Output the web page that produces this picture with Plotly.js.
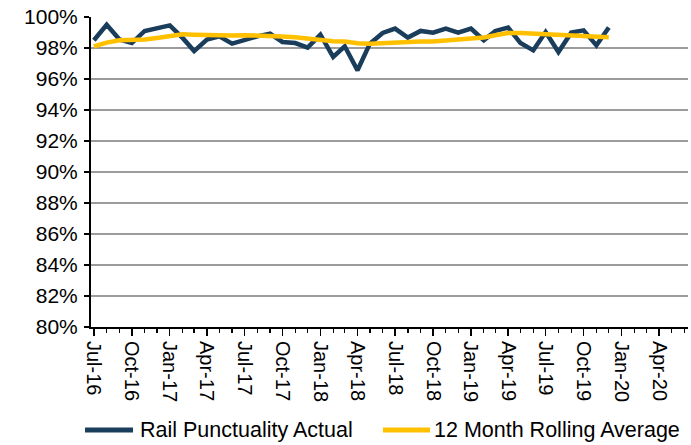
<!DOCTYPE html>
<html>
<head>
<meta charset="utf-8">
<script src="https://cdn.plot.ly/plotly-3.0.1.min.js"></script>
<style>
  html, body { margin: 0; padding: 0; background: #ffffff; }
  #chart { width: 691px; height: 445px; }
</style>
</head>
<body>
<div id="chart"></div>
<script>
const months = [
  '2016-07','2016-08','2016-09','2016-10','2016-11','2016-12',
  '2017-01','2017-02','2017-03','2017-04','2017-05','2017-06',
  '2017-07','2017-08','2017-09','2017-10','2017-11','2017-12',
  '2018-01','2018-02','2018-03','2018-04','2018-05','2018-06',
  '2018-07','2018-08','2018-09','2018-10','2018-11','2018-12',
  '2019-01','2019-02','2019-03','2019-04','2019-05','2019-06',
  '2019-07','2019-08','2019-09','2019-10','2019-11','2019-12'
];

const actual = [
  98.50, 99.50, 98.55, 98.32, 99.10, 99.27,
  99.46, 98.65, 97.80, 98.54, 98.75, 98.28,
  98.54, 98.75, 98.93, 98.39, 98.32, 98.03,
  98.86, 97.42, 98.11, 96.56, 98.28, 98.97,
  99.25, 98.67, 99.10, 98.99, 99.25, 98.99,
  99.25, 98.50, 99.10, 99.32, 98.32, 97.85,
  99.03, 97.74, 98.99, 99.14, 98.17, 99.32
];

const rolling = [
  98.10, 98.35, 98.50, 98.50, 98.55, 98.65,
  98.75, 98.88, 98.85, 98.82, 98.80, 98.80,
  98.82, 98.82, 98.80, 98.75, 98.70, 98.60,
  98.50, 98.44, 98.42, 98.30, 98.28, 98.32,
  98.38, 98.40, 98.42, 98.42, 98.47, 98.52,
  98.60, 98.68, 98.82, 98.97, 98.97, 98.93,
  98.88, 98.80, 98.78, 98.78, 98.75, 98.70
];

const seriesNames = ['Rail Punctuality Actual', '12 Month Rolling Average'];
const seriesColors = ['#1b3d5c', '#ffc000'];
const yTickVals = [80, 82, 84, 86, 88, 90, 92, 94, 96, 98, 100];
const yTickText = ['80%','82%','84%','86%','88%','90%','92%','94%','96%','98%','100%'];

const FONT = 'Liberation Sans, Arial, sans-serif';

const traces = [
  {
    x: months, y: actual, name: seriesNames[0], type: 'scatter', mode: 'lines',
    line: { color: seriesColors[0], width: 4.5 }, hoverinfo: 'none', showlegend: false
  },
  {
    x: months, y: rolling, name: seriesNames[1], type: 'scatter', mode: 'lines',
    line: { color: seriesColors[1], width: 4.5 }, hoverinfo: 'none', showlegend: false
  }
];

// Legend drawn as paper-referenced line swatches plus text labels
const legendY = -0.332;
const legendItems = [
  { x0: -0.010, x1: 0.0704, tx: 0.0787 },
  { x0: 0.489, x1: 0.568, tx: 0.571 }
];
const shapes = legendItems.map((it, i) => ({
  type: 'line', xref: 'paper', yref: 'paper',
  x0: it.x0, x1: it.x1, y0: legendY, y1: legendY,
  line: { color: seriesColors[i], width: 5 }, layer: 'above'
}));
const annotations = legendItems.map((it, i) => ({
  xref: 'paper', yref: 'paper', x: it.tx, y: legendY,
  xanchor: 'left', yanchor: 'middle', showarrow: false,
  text: seriesNames[i],
  font: { family: FONT, size: 21.5, color: '#000000' }
}));

const layout = {
  width: 691, height: 445,
  margin: { l: 91, r: 3, t: 17, b: 118 },
  paper_bgcolor: '#ffffff', plot_bgcolor: '#ffffff',
  font: { family: FONT, size: 20, color: '#000000' },
  showlegend: false,
  shapes: shapes,
  annotations: annotations,
  xaxis: {
    type: 'date',
    automargin: false,
    range: ['2016-06-24', '2020-06-10'],
    tick0: '2016-07-01', dtick: 'M3', tickformat: '%b-%y',
    tickangle: 90,
    ticks: 'outside', ticklen: 7, tickwidth: 1.3, tickcolor: '#000000',
    ticklabelstandoff: 1,
    minor: { dtick: 'M1', ticks: 'outside', ticklen: 4, tickwidth: 1.3, tickcolor: '#000000', showgrid: false },
    showline: true, linecolor: '#000000', linewidth: 2,
    showgrid: false, zeroline: false,
    tickfont: { family: FONT, size: 20, color: '#000000' },
    fixedrange: true
  },
  yaxis: {
    automargin: false,
    range: [80, 100],
    tickvals: yTickVals, ticktext: yTickText,
    ticks: 'outside', ticklen: 5, tickwidth: 1.3, tickcolor: '#000000',
    ticklabelstandoff: 2,
    showline: true, linecolor: '#000000', linewidth: 2,
    showgrid: true, gridcolor: '#9c9c9c', gridwidth: 1.5,
    zeroline: false,
    tickfont: { family: FONT, size: 21, color: '#000000' },
    fixedrange: true
  }
};

Plotly.newPlot('chart', traces, layout, { displayModeBar: false, staticPlot: true });
</script>
</body>
</html>
